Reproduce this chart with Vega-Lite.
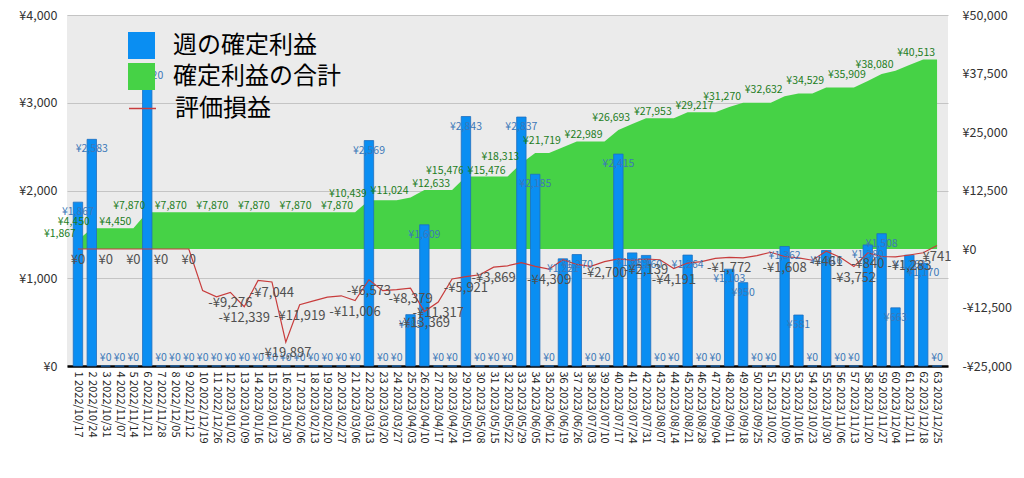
{
  "$schema": "https://vega.github.io/schema/vega-lite/v6.json",
  "width": 881,
  "height": 351,
  "autosize": {"type": "none"},
  "padding": {"left": 67, "top": 15, "right": 76, "bottom": 112},
  "background": "white",
  "config": {
    "font": "Noto Sans CJK JP",
    "view": {"fill": "#ebebeb", "stroke": null},
    "axis": {"labelFont": "Noto Sans CJK JP", "labelColor": "#333333", "ticks": false, "domain": false, "title": null}
  },
  "data": {"values": [
    {"w": 1, "label": "1 2022/10/17", "bar": 1867, "cum": 1867, "pl": 0},
    {"w": 2, "label": "2 2022/10/24", "bar": 2583, "cum": 4450, "pl": 0},
    {"w": 3, "label": "3 2022/10/31", "bar": 0, "cum": 4450, "pl": 0},
    {"w": 4, "label": "4 2022/11/07", "bar": 0, "cum": 4450, "pl": 0},
    {"w": 5, "label": "5 2022/11/14", "bar": 0, "cum": 4450, "pl": 0},
    {"w": 6, "label": "6 2022/11/21", "bar": 3420, "cum": 7870, "pl": 0},
    {"w": 7, "label": "7 2022/11/28", "bar": 0, "cum": 7870, "pl": 0},
    {"w": 8, "label": "8 2022/12/05", "bar": 0, "cum": 7870, "pl": 0},
    {"w": 9, "label": "9 2022/12/12", "bar": 0, "cum": 7870, "pl": 0},
    {"w": 10, "label": "10 2022/12/19", "bar": 0, "cum": 7870, "pl": -8900},
    {"w": 11, "label": "11 2022/12/26", "bar": 0, "cum": 7870, "pl": -10200},
    {"w": 12, "label": "12 2023/01/02", "bar": 0, "cum": 7870, "pl": -9276},
    {"w": 13, "label": "13 2023/01/09", "bar": 0, "cum": 7870, "pl": -12339},
    {"w": 14, "label": "14 2023/01/16", "bar": 0, "cum": 7870, "pl": -6700},
    {"w": 15, "label": "15 2023/01/23", "bar": 0, "cum": 7870, "pl": -7044},
    {"w": 16, "label": "16 2023/01/30", "bar": 0, "cum": 7870, "pl": -19897},
    {"w": 17, "label": "17 2023/02/06", "bar": 0, "cum": 7870, "pl": -11919},
    {"w": 18, "label": "18 2023/02/13", "bar": 0, "cum": 7870, "pl": -11100},
    {"w": 19, "label": "19 2023/02/20", "bar": 0, "cum": 7870, "pl": -10300},
    {"w": 20, "label": "20 2023/02/27", "bar": 0, "cum": 7870, "pl": -10000},
    {"w": 21, "label": "21 2023/03/06", "bar": 0, "cum": 7870, "pl": -11006},
    {"w": 22, "label": "22 2023/03/13", "bar": 2569, "cum": 10439, "pl": -6573},
    {"w": 23, "label": "23 2023/03/20", "bar": 0, "cum": 10439, "pl": -8900},
    {"w": 24, "label": "24 2023/03/27", "bar": 0, "cum": 10439, "pl": -8700},
    {"w": 25, "label": "25 2023/04/03", "bar": 585, "cum": 11024, "pl": -8379},
    {"w": 26, "label": "26 2023/04/10", "bar": 1609, "cum": 12633, "pl": -13369},
    {"w": 27, "label": "27 2023/04/17", "bar": 0, "cum": 12633, "pl": -11317},
    {"w": 28, "label": "28 2023/04/24", "bar": 0, "cum": 12633, "pl": -6400},
    {"w": 29, "label": "29 2023/05/01", "bar": 2843, "cum": 15476, "pl": -5921},
    {"w": 30, "label": "30 2023/05/08", "bar": 0, "cum": 15476, "pl": -5500},
    {"w": 31, "label": "31 2023/05/15", "bar": 0, "cum": 15476, "pl": -3869},
    {"w": 32, "label": "32 2023/05/22", "bar": 0, "cum": 15476, "pl": -3600},
    {"w": 33, "label": "33 2023/05/29", "bar": 2837, "cum": 18313, "pl": -2900},
    {"w": 34, "label": "34 2023/06/05", "bar": 2185, "cum": 20498, "pl": -3700},
    {"w": 35, "label": "35 2023/06/12", "bar": 0, "cum": 20498, "pl": -4309},
    {"w": 36, "label": "36 2023/06/19", "bar": 1221, "cum": 21719, "pl": -2300},
    {"w": 37, "label": "37 2023/06/26", "bar": 1270, "cum": 22989, "pl": -3300},
    {"w": 38, "label": "38 2023/07/03", "bar": 0, "cum": 22989, "pl": -3700},
    {"w": 39, "label": "39 2023/07/10", "bar": 0, "cum": 22989, "pl": -2700},
    {"w": 40, "label": "40 2023/07/17", "bar": 2415, "cum": 25404, "pl": -2100},
    {"w": 41, "label": "41 2023/07/24", "bar": 1289, "cum": 26693, "pl": -2400},
    {"w": 42, "label": "42 2023/07/31", "bar": 1260, "cum": 27953, "pl": -2139},
    {"w": 43, "label": "43 2023/08/07", "bar": 0, "cum": 27953, "pl": -2300},
    {"w": 44, "label": "44 2023/08/14", "bar": 0, "cum": 27953, "pl": -4191},
    {"w": 45, "label": "45 2023/08/21", "bar": 1264, "cum": 29217, "pl": -3000},
    {"w": 46, "label": "46 2023/08/28", "bar": 0, "cum": 29217, "pl": -2700},
    {"w": 47, "label": "47 2023/09/04", "bar": 0, "cum": 29217, "pl": -2000},
    {"w": 48, "label": "48 2023/09/11", "bar": 1103, "cum": 30320, "pl": -1772},
    {"w": 49, "label": "49 2023/09/18", "bar": 950, "cum": 31270, "pl": -1900},
    {"w": 50, "label": "50 2023/09/25", "bar": 0, "cum": 31270, "pl": -1400},
    {"w": 51, "label": "51 2023/10/02", "bar": 0, "cum": 31270, "pl": -700},
    {"w": 52, "label": "52 2023/10/09", "bar": 1362, "cum": 32632, "pl": -1608},
    {"w": 53, "label": "53 2023/10/16", "bar": 581, "cum": 33213, "pl": -1900},
    {"w": 54, "label": "54 2023/10/23", "bar": 0, "cum": 33213, "pl": -2400},
    {"w": 55, "label": "55 2023/10/30", "bar": 1316, "cum": 34529, "pl": -461},
    {"w": 56, "label": "56 2023/11/06", "bar": 0, "cum": 34529, "pl": -1770},
    {"w": 57, "label": "57 2023/11/13", "bar": 0, "cum": 34529, "pl": -3752},
    {"w": 58, "label": "58 2023/11/20", "bar": 1380, "cum": 35909, "pl": -840},
    {"w": 59, "label": "59 2023/11/27", "bar": 1508, "cum": 37417, "pl": -1600},
    {"w": 60, "label": "60 2023/12/04", "bar": 663, "cum": 38080, "pl": -1700},
    {"w": 61, "label": "61 2023/12/11", "bar": 1263, "cum": 39343, "pl": -1283},
    {"w": 62, "label": "62 2023/12/18", "bar": 1170, "cum": 40513, "pl": -800},
    {"w": 63, "label": "63 2023/12/25", "bar": 0, "cum": 40513, "pl": 741}
  ]},
  "encoding": {
    "x": {
      "field": "label", "type": "nominal", "sort": null,
      "scale": {"paddingInner": 0.32, "paddingOuter": 0.45},
      "axis": {"labelAngle": 90, "labelFontSize": 11, "labelColor": "#222222", "domain": true, "domainColor": "#000000", "domainWidth": 2.5, "labelPadding": 5, "labelOverlap": false, "grid": false, "title": null, "labelLimit": 200}
    }
  },
  "layer": [
    {
      "mark": {"type": "area", "opacity": 1, "interpolate": "linear"},
      "encoding": {
        "y": {"field": "cum", "type": "quantitative", "scale": {"domain": [-25000, 50000], "nice": false, "zero": false},
          "axis": {"orient": "right", "values": [-25000, -12500, 0, 12500, 25000, 37500, 50000], "labelExpr": "(datum.value < 0 ? '-¥' : '¥') + format(abs(datum.value), ',')", "labelFontSize": 12.5, "labelPadding": 14, "grid": false, "title": null}},
        "y2": {"datum": 0},
        "color": {"datum": "確定利益の合計", "type": "nominal",
          "scale": {"domain": ["週の確定利益", "確定利益の合計"], "range": ["#0a8ef2", "#46d246"]},
          "legend": {"orient": "none", "legendX": 61, "legendY": 17, "title": null, "labelFontSize": 24, "labelColor": "#000000", "labelFont": "Noto Sans CJK JP", "symbolType": "square", "symbolSize": 729, "symbolOpacity": 1, "symbolStrokeWidth": 0, "labelOffset": 18, "rowPadding": 4, "padding": 0, "labelLimit": 400}
        }
      }
    },
    {
      "mark": {"type": "bar", "stroke": "#1f6fbf", "strokeWidth": 0.8},
      "encoding": {
        "y": {"field": "bar", "type": "quantitative", "scale": {"domain": [0, 4000], "nice": false},
          "axis": {"orient": "left", "values": [0, 1000, 2000, 3000, 4000], "labelExpr": "'¥' + format(datum.value, ',')", "labelFontSize": 12.5, "labelPadding": 10, "grid": true, "gridColor": "#c4c4c4", "gridWidth": 1.2, "title": null}},
        "color": {"datum": "週の確定利益", "type": "nominal"}
      }
    },
    {
      "mark": {"type": "line", "strokeWidth": 1.2},
      "encoding": {
        "y": {"field": "pl", "type": "quantitative", "scale": {"domain": [-25000, 50000], "nice": false, "zero": false}, "axis": null},
        "stroke": {"datum": "評価損益", "type": "nominal",
          "scale": {"domain": ["評価損益"], "range": ["#c83c3c"]},
          "legend": {"orient": "none", "legendX": 61, "legendY": 79, "title": null, "labelFontSize": 24, "labelColor": "#000000", "labelFont": "Noto Sans CJK JP", "symbolType": "stroke", "symbolSize": 729, "symbolStrokeWidth": 1.5, "labelOffset": 18, "padding": 0, "labelLimit": 400}
        }
      }
    },
    {
      "transform": [
        {"filter": {"field": "w", "oneOf": [1, 2, 5, 6, 9, 12, 15, 18, 21, 22, 25, 28, 29, 32, 33, 36, 39, 41, 44, 47, 49, 52, 55, 58, 60, 63]}},
        {"calculate": "'¥' + format(datum.cum, ',')", "as": "t"}
      ],
      "mark": {"type": "text", "align": "right", "baseline": "bottom", "dx": -2, "dy": -1, "fontSize": 10.5, "color": "#1d7d1d"},
      "encoding": {
        "y": {"field": "cum", "type": "quantitative", "scale": {"domain": [-25000, 50000], "nice": false, "zero": false}, "axis": null},
        "text": {"field": "t"}
      }
    },
    {
      "transform": [
        {"filter": "datum.bar > 0"},
        {"calculate": "'¥' + format(datum.bar, ',')", "as": "t"}
      ],
      "mark": {"type": "text", "align": "center", "baseline": "middle", "dy": 10, "fontSize": 10.5, "color": "#3b78b8"},
      "encoding": {
        "y": {"field": "bar", "type": "quantitative", "scale": {"domain": [0, 4000], "nice": false}, "axis": null},
        "text": {"field": "t"}
      }
    },
    {
      "transform": [
        {"filter": "datum.bar == 0"},
        {"calculate": "'¥0'", "as": "t"}
      ],
      "mark": {"type": "text", "align": "center", "baseline": "middle", "dy": -8, "fontSize": 10.5, "color": "#3b78b8"},
      "encoding": {
        "y": {"field": "bar", "type": "quantitative", "scale": {"domain": [0, 4000], "nice": false}, "axis": null},
        "text": {"field": "t"}
      }
    },
    {
      "transform": [
        {"filter": {"field": "w", "oneOf": [1, 3, 5, 7, 9, 12, 13, 15, 16, 17, 21, 22, 25, 26, 27, 29, 31, 35, 39, 42, 44, 48, 52, 55, 57, 58, 61, 63]}},
        {"calculate": "(datum.pl < 0 ? '-¥' : '¥') + format(abs(datum.pl), ',')", "as": "t"}
      ],
      "mark": {"type": "text", "align": "center", "baseline": "middle", "dy": 11, "fontSize": 13, "color": "#505050"},
      "encoding": {
        "y": {"field": "pl", "type": "quantitative", "scale": {"domain": [-25000, 50000], "nice": false, "zero": false}, "axis": null},
        "text": {"field": "t"}
      }
    }
  ],
  "resolve": {"scale": {"y": "independent"}}
}
